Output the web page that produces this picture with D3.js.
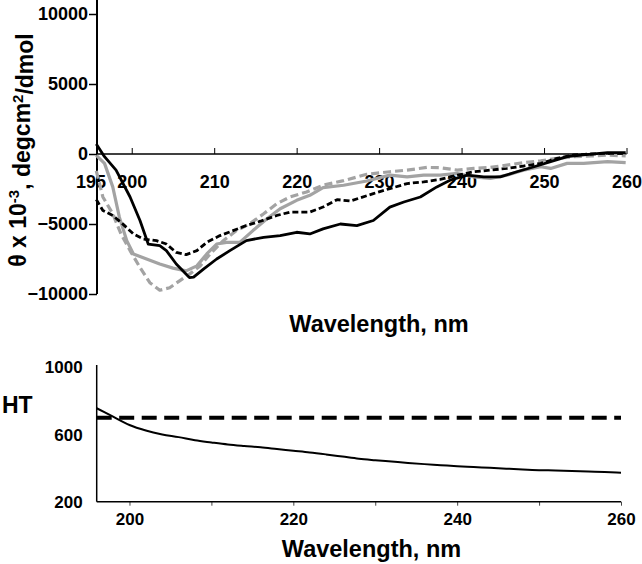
<!DOCTYPE html>
<html>
<head>
<meta charset="utf-8">
<script src="https://cdn.jsdelivr.net/npm/d3@7"></script>
<style>
  body { margin: 0; background: #fff; }
  svg text { font-family: "Liberation Sans", Arial, sans-serif; font-weight: bold; fill: #000; }
</style>
</head>
<body>
<div id="chart"></div>
<script>
// CD spectra (top panel), wavelength in nm, theta in degcm2/dmol
var blackSolidWave = [195.7,196.7,198.1,199.8,201,202,203.4,204.2,205.4,206.4,207,207.5,208.7,210.3,211.9,213.9,216,218,220,221.6,223.2,225.3,227.3,229.3,231.3,233,235,237,238.6,240.7,242.7,244.7,246.7,248.8,250.8,252.8,254.8,257.7,259.9];
var blackSolidVal  = [720,-190,-1150,-3070,-4750,-6430,-6550,-6900,-7860,-8460,-8830,-8800,-8220,-7500,-6900,-6190,-5950,-5830,-5590,-5710,-5350,-5000,-5110,-4750,-3790,-3430,-3070,-2350,-1870,-1510,-1630,-1630,-1270,-910,-550,-190,-70,100,100];

var blackDashWave = [195.7,196.5,197.7,198.9,200.2,201.4,203,204.2,205.4,206.6,207.9,209.1,210.7,212.3,213.9,215.6,217.6,219.2,221.6,223.2,224.9,226.5,229.3,231.3,233.4,235.4,237.4,239.5,241.5,243.5,245.5,247.5,249.6,251.6,253.6,255.7,257.7,259.9];
var blackDashVal  = [-3250,-4030,-4390,-4990,-5710,-6070,-6190,-6430,-7030,-7190,-6900,-6310,-5830,-5470,-5110,-4800,-4390,-4150,-4150,-3790,-3260,-3360,-2830,-2470,-2110,-1990,-1820,-1510,-1270,-1150,-1030,-860,-670,-310,-70,0,50,50];

var graySolidWave = [195.7,196.7,197.7,198.5,199.4,200.2,201.8,203.4,205,206.6,207.9,209.1,210.3,211.5,213.1,214.7,216.4,218,220,221.6,223.2,225.7,228.5,231.3,233.4,235.4,237.4,239.5,241.5,243.5,245.5,247.5,249.6,250.8,252.8,254.8,257.7,259.9];
var graySolidVal  = [-100,-670,-2350,-4510,-6190,-7140,-7500,-7860,-8150,-8350,-7990,-7140,-6430,-6310,-6310,-5470,-4630,-3910,-3310,-2950,-2400,-2230,-1930,-1510,-1630,-1510,-1510,-1390,-1630,-1750,-1510,-1150,-910,-1030,-670,-670,-550,-620];

var grayDashWave = [195.7,196.5,197.7,198.7,199.8,201,202.2,203.4,204.6,205.8,207,208.3,209.5,211.1,212.7,214.3,216,217.6,219.2,221.2,223.2,225.7,228.5,231.3,233.4,235.8,237.4,239.5,241.5,243.5,245.5,247.5,249.6,251.6,253.6,255.7,257.7,259.9];
var grayDashVal  = [-1200,-3070,-4270,-5710,-6900,-8110,-9190,-9730,-9550,-9060,-8580,-7990,-7140,-6190,-5470,-4990,-4270,-3550,-3070,-2710,-2230,-1900,-1450,-1270,-1150,-960,-980,-1150,-1030,-960,-790,-620,-480,-310,-190,-140,-70,-140];

var topXTicks = [195,200,210,220,230,240,250,260];
var topYTicks = [-10000,-5000,0,5000,10000];

// HT voltage (bottom panel)
var htWave = [196,198,200,202,204,206,208,210,212,214,216,218,220,222,224,226,228,230,232,234,236,238,240,242,244,246,248,250,252,254,256,258,260];
var htVal  = [757,707,657,624,601,585,566,553,541,532,524,514,504,494,482,469,456,447,439,431,424,418,412,407,402,397,392,388,386,383,380,377,373];
var htLimitWave = [196,260];
var htLimitVal = [700,700];
var botXTicks = [200,210,220,230,240,250,260];
var botXLabels = [200,220,240,260];
var botYTicks = [200,600,1000];

var svgWidth = 642, svgHeight = 564;

var svg = d3.select("#chart")
  .append("svg")
  .attr("width", svgWidth)
  .attr("height", svgHeight);

function zip(w, v) {
  return w.map(function(d, i) { return {w: d, v: v[i]}; });
}

// ---------- top panel ----------
var xTop = d3.scaleLinear().domain([195, 260]).range([90.5, 626.5]);
var yTop = d3.scaleLinear().domain([-10000, 10000]).range([294, 14]);
var yAxisX = 97;

var topYAxis = svg.append("g")
  .attr("transform", `translate(${yAxisX},0)`)
  .call(d3.axisLeft(yTop).tickValues(topYTicks).tickSize(8).tickSizeOuter(0).tickPadding(1).tickFormat(d3.format("d")));
topYAxis.select(".domain").remove();
topYAxis.selectAll("text").style("font-size", "18px");
topYAxis.selectAll("line").attr("stroke-width", 1.5);
svg.append("line")
  .attr("x1", yAxisX).attr("x2", yAxisX)
  .attr("y1", 0).attr("y2", yTop(-10000))
  .attr("stroke", "#000").attr("stroke-width", 2);

var topXAxis = svg.append("g")
  .attr("transform", `translate(0,${yTop(0)})`)
  .call(d3.axisBottom(xTop).tickValues(topXTicks).tickSize(-6).tickSizeOuter(0).tickPadding(21).tickFormat(d3.format("d")));
topXAxis.select(".domain").remove();
topXAxis.selectAll("text").style("font-size", "18px");
topXAxis.selectAll(".tick").filter(function(d) { return d === 195; }).select("line").remove();
svg.append("line")
  .attr("x1", yAxisX).attr("x2", xTop(260))
  .attr("y1", yTop(0)).attr("y2", yTop(0))
  .attr("stroke", "#000").attr("stroke-width", 1.5);

var lineTop = d3.line()
  .x(d => xTop(d.w))
  .y(d => yTop(d.v));

var topSeries = [
  {data: zip(graySolidWave, graySolidVal), color: "#a3a3a3", width: 3.2, dash: null},
  {data: zip(grayDashWave, grayDashVal), color: "#a3a3a3", width: 3.2, dash: "8,4"},
  {data: zip(blackDashWave, blackDashVal), color: "#000", width: 2.8, dash: "6,3"},
  {data: zip(blackSolidWave, blackSolidVal), color: "#000", width: 2.8, dash: null}
];

svg.selectAll(".cd-line")
  .data(topSeries)
  .enter()
  .append("path")
  .attr("class", "cd-line")
  .attr("d", d => lineTop(d.data))
  .attr("fill", "none")
  .attr("stroke", d => d.color)
  .attr("stroke-width", d => d.width)
  .attr("stroke-dasharray", d => d.dash)
  .attr("stroke-linejoin", "round");

// y axis title (top)
var yTitle = svg.append("text")
  .attr("transform", "translate(26,150) rotate(-90)")
  .attr("text-anchor", "middle")
  .style("font-size", "23px");
yTitle.append("tspan").text("\u03b8 x 10");
yTitle.append("tspan").attr("dy", "-0.45em").style("font-size", "15px").text("-3");
yTitle.append("tspan").attr("dy", "0.45em").text(", degcm");
yTitle.append("tspan").attr("dy", "-0.45em").style("font-size", "15px").text("2");
yTitle.append("tspan").attr("dy", "0.45em").text("/dmol");

svg.append("text")
  .attr("x", 379).attr("y", 332)
  .attr("text-anchor", "middle")
  .style("font-size", "23.5px")
  .text("Wavelength, nm");

// ---------- bottom panel ----------
var xBot = d3.scaleLinear().domain([196, 260]).range([96.7, 621]);
var yBot = d3.scaleLinear().domain([200, 1000]).range([501.7, 367.5]);

var botYAxis = svg.append("g")
  .attr("transform", `translate(${xBot(196)},0)`)
  .call(d3.axisLeft(yBot).tickValues(botYTicks).tickSize(0).tickPadding(14).tickFormat(d3.format("d")));
botYAxis.select(".domain").remove();
botYAxis.selectAll("text").style("font-size", "17px");
svg.append("line")
  .attr("x1", xBot(196)).attr("x2", xBot(196))
  .attr("y1", 365).attr("y2", yBot(200))
  .attr("stroke", "#000").attr("stroke-width", 1.5);

var botXAxis = svg.append("g")
  .attr("transform", `translate(0,${yBot(200)})`)
  .call(d3.axisBottom(xBot).tickValues(botXTicks).tickSize(4).tickSizeOuter(0).tickPadding(7)
    .tickFormat(d => botXLabels.indexOf(d) >= 0 ? d : ""));
botXAxis.select(".domain").remove();
botXAxis.selectAll("text").style("font-size", "17px");
botXAxis.selectAll("line").attr("stroke", "#444");
svg.append("line")
  .attr("x1", xBot(196)).attr("x2", xBot(260))
  .attr("y1", yBot(200)).attr("y2", yBot(200))
  .attr("stroke", "#000").attr("stroke-width", 1.5);

var lineBot = d3.line()
  .x(d => xBot(d.w))
  .y(d => yBot(d.v));

svg.append("path")
  .datum(zip(htLimitWave, htLimitVal))
  .attr("d", lineBot)
  .attr("fill", "none")
  .attr("stroke", "#000")
  .attr("stroke-width", 4)
  .attr("stroke-dasharray", "15,7.5");

svg.append("path")
  .datum(zip(htWave, htVal))
  .attr("d", lineBot.curve(d3.curveMonotoneX))
  .attr("fill", "none")
  .attr("stroke", "#000")
  .attr("stroke-width", 2);

svg.append("text")
  .attr("x", 2).attr("y", 413)
  .style("font-size", "23px")
  .text("HT");

svg.append("text")
  .attr("x", 371.5).attr("y", 557)
  .attr("text-anchor", "middle")
  .style("font-size", "23.5px")
  .text("Wavelength, nm");
</script>
</body>
</html>
